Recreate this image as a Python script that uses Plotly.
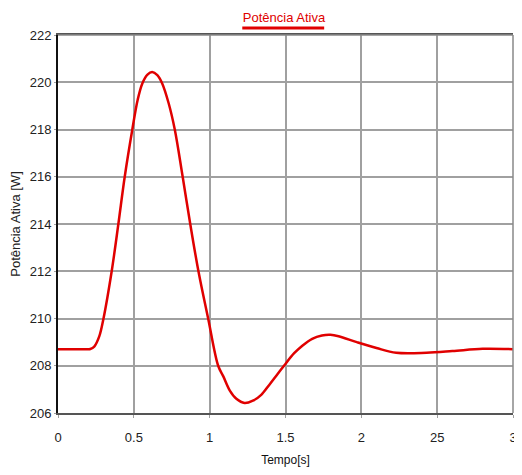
import plotly.graph_objects as go

# Time [s]
tempo = [0, 0.1, 0.2, 0.213, 0.239, 0.272, 0.30, 0.354, 0.398, 0.44, 0.49, 0.525,
         0.556, 0.59, 0.621, 0.655, 0.687, 0.73, 0.77, 0.822, 0.872, 0.926, 0.99,
         1.056, 1.09, 1.133, 1.176, 1.23, 1.285, 1.34, 1.394, 1.448, 1.49, 1.557,
         1.611, 1.676, 1.74, 1.796, 1.85, 1.97, 2.1, 2.23, 2.43, 2.6, 2.8, 3.0]
# Active power [W]
potencia = [208.7, 208.7, 208.7, 208.71, 208.81, 209.24, 210.0, 212.0, 214.0, 216.0,
            218.0, 219.25, 219.95, 220.32, 220.43, 220.3, 219.95, 219.1, 218.0, 216.0,
            214.0, 212.0, 210.0, 208.0, 207.55, 206.95, 206.6, 206.42, 206.52, 206.77,
            207.2, 207.65, 208.0, 208.53, 208.85, 209.14, 209.28, 209.31, 209.25, 209.0,
            208.75, 208.55, 208.55, 208.62, 208.72, 208.7]

x_tickvals = [0, 0.5, 1, 1.5, 2, 2.5, 3]
x_ticktext = ["0", "0.5", "1", "1.5", "2", "25", "3"]
y_tickvals = [206, 208, 210, 212, 214, 216, 218, 220, 222]

font_family = "Liberation Sans, Arial, sans-serif"

# the page body has an 8px margin: keep the figure inside the window
W, H = 506, 459

fig = go.Figure()
fig.add_trace(go.Scatter(
    x=tempo, y=potencia, mode="lines",
    line=dict(color="#e00000", width=2.5, shape="spline", smoothing=1.0),
    hoverinfo="skip", showlegend=False,
))

fig.update_layout(
    width=W, height=H,
    margin=dict(l=50, r=1, t=27, b=54),
    paper_bgcolor="white", plot_bgcolor="white",
    font=dict(family=font_family, size=13, color="#222"),
    title=dict(text="Potência Ativa", x=(276 / W), xanchor="center",
               y=1 - 9 / H, yanchor="middle",
               font=dict(family=font_family, size=13, color="#e00000")),
    xaxis=dict(range=[0, 3], tickvals=x_tickvals, ticktext=x_ticktext,
               automargin=False, ticklabeloverflow="allow",
               showgrid=True, gridcolor="#a0a0a0", gridwidth=1.5,
               showline=True, linecolor="#555", linewidth=1.5, mirror=True,
               ticks="outside", ticklen=3, tickcolor="#a0a0a0",
               ticklabelstandoff=9, zeroline=False,
               title=dict(text="Tempo[s]", standoff=15,
                          font=dict(family=font_family, size=12, color="#111")),
               tickfont=dict(size=13, color="#222")),
    yaxis=dict(range=[206, 222], tickvals=y_tickvals,
               automargin=False,
               showgrid=True, gridcolor="#a0a0a0", gridwidth=1.5,
               showline=True, linecolor="#111", linewidth=2, mirror=False,
               ticks="outside", ticklen=2, tickcolor="#a0a0a0",
               ticklabelstandoff=0, zeroline=False,
               title=dict(text="Potência Ativa [W]", standoff=10,
                          font=dict(family=font_family, size=13, color="#222")),
               tickfont=dict(size=13, color="#222")),
    shapes=[
        # title underline
        dict(type="line", xref="paper", yref="paper",
             x0=0.405, x1=0.585, y0=1.0185, y1=1.0185,
             line=dict(color="#e00000", width=3)),
        # top and right frame
        dict(type="line", xref="paper", yref="paper", x0=0, x1=1, y0=1, y1=1,
             line=dict(color="#888", width=1.5)),
        dict(type="line", xref="paper", yref="paper", x0=1, x1=1, y0=0, y1=1,
             line=dict(color="#888", width=1.5)),
    ],
)

fig.write_html("out.html")
